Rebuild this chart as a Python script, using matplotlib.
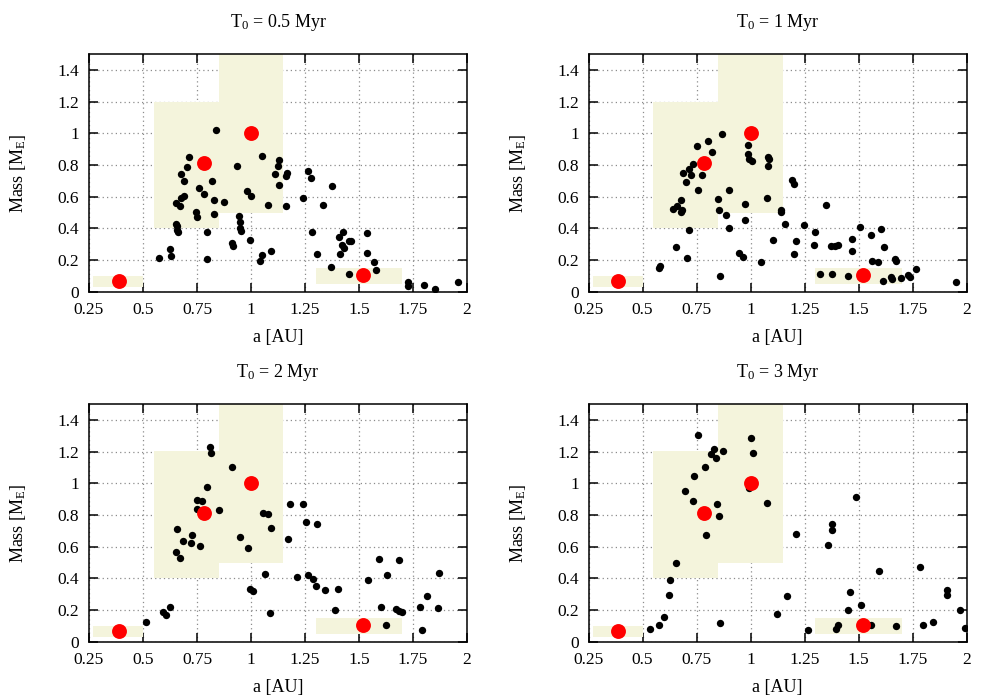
import matplotlib
matplotlib.use('Agg')
import matplotlib.pyplot as plt
from matplotlib import ticker
from matplotlib.patches import Rectangle

plt.rcParams['font.family'] = ['Liberation Serif', 'DejaVu Serif']
plt.rcParams['mathtext.fontset'] = 'custom'
plt.rcParams['mathtext.rm'] = 'Liberation Serif'
plt.rcParams['mathtext.it'] = 'Liberation Serif:italic'
plt.rcParams['mathtext.bf'] = 'Liberation Serif:bold'

titles = ['0.5', '1', '2', '3']

# planets (red)
planet_a = [0.387, 0.783, 1.0, 1.52]
planet_m = [0.068, 0.81, 1.0, 0.108]

# shaded boxes: Mercury, Venus, Earth, Mars
box_a0 = [0.27, 0.55, 0.85, 1.30]
box_a1 = [0.50, 0.85, 1.15, 1.70]
box_m0 = [0.03, 0.40, 0.50, 0.05]
box_m1 = [0.10, 1.20, 1.60, 0.15]

# T0 = 0.5 Myr
a1 = [0.837, 0.712, 0.706, 0.677, 0.688, 0.820, 0.761, 0.781, 0.692, 0.675,
      0.651, 0.669, 0.831, 0.875, 0.746, 0.749, 0.831, 0.654, 0.657, 0.657,
      0.660, 0.795, 0.574, 0.627, 0.629, 0.794, 0.937, 0.982, 1.000, 0.943,
      0.951, 0.948, 0.955, 0.911, 0.915, 0.994, 1.052, 1.129, 1.123, 1.111,
      1.131, 1.079, 1.163, 1.160, 1.168, 1.051, 1.042, 1.092, 1.263, 1.279,
      1.242, 1.333, 1.373, 1.282, 1.306, 1.371, 1.428, 1.408, 1.419, 1.430,
      1.413, 1.456, 1.465, 1.456, 1.539, 1.537, 1.568, 1.579, 1.725, 1.727,
      1.799, 1.850, 1.958]
m1 = [1.022, 0.848, 0.787, 0.745, 0.699, 0.701, 0.655, 0.619, 0.604, 0.592,
      0.560, 0.541, 0.577, 0.569, 0.502, 0.470, 0.491, 0.430, 0.413, 0.390,
      0.376, 0.378, 0.212, 0.273, 0.229, 0.208, 0.795, 0.636, 0.604, 0.476,
      0.443, 0.401, 0.386, 0.308, 0.292, 0.327, 0.854, 0.833, 0.791, 0.741,
      0.676, 0.548, 0.539, 0.732, 0.749, 0.231, 0.197, 0.256, 0.764, 0.720,
      0.590, 0.548, 0.667, 0.380, 0.241, 0.155, 0.376, 0.346, 0.298, 0.275,
      0.241, 0.323, 0.323, 0.111, 0.374, 0.243, 0.187, 0.136, 0.063, 0.040,
      0.042, 0.019, 0.065]

# T0 = 1 Myr
a2 = [0.868, 0.805, 0.752, 0.822, 0.732, 0.714, 0.686, 0.724, 0.774, 0.703,
      0.757, 0.898, 0.849, 0.680, 0.657, 0.641, 0.684, 0.680, 0.852, 0.886,
      0.900, 0.714, 0.655, 0.704, 0.581, 0.577, 0.860, 0.988, 0.989, 0.991,
      1.005, 1.082, 1.086, 1.082, 0.975, 1.074, 0.975, 0.946, 0.965, 1.049,
      1.103, 1.139, 1.143, 1.192, 1.201, 1.159, 1.212, 1.201, 1.246, 1.296,
      1.293, 1.348, 1.374, 1.390, 1.405, 1.471, 1.470, 1.505, 1.557, 1.603,
      1.619, 1.561, 1.588, 1.670, 1.673, 1.764, 1.322, 1.379, 1.451, 1.613,
      1.651, 1.653, 1.694, 1.728, 1.736, 1.950]
m2 = [0.998, 0.952, 0.922, 0.880, 0.807, 0.773, 0.748, 0.735, 0.735, 0.695,
      0.643, 0.643, 0.586, 0.578, 0.544, 0.523, 0.515, 0.504, 0.515, 0.483,
      0.403, 0.389, 0.284, 0.216, 0.162, 0.149, 0.099, 0.926, 0.868, 0.840,
      0.824, 0.851, 0.840, 0.794, 0.557, 0.592, 0.452, 0.248, 0.221, 0.191,
      0.324, 0.504, 0.515, 0.704, 0.683, 0.429, 0.319, 0.242, 0.422, 0.378,
      0.294, 0.548, 0.288, 0.292, 0.296, 0.334, 0.256, 0.408, 0.359, 0.397,
      0.282, 0.197, 0.187, 0.208, 0.195, 0.147, 0.111, 0.111, 0.099, 0.067,
      0.095, 0.082, 0.088, 0.105, 0.097, 0.065]

# T0 = 2 Myr
a3 = [0.809, 0.817, 0.912, 0.797, 0.752, 0.772, 0.752, 0.854, 0.657, 0.686,
      0.728, 0.724, 0.766, 0.651, 0.673, 0.948, 0.988, 1.054, 1.080, 1.091,
      0.995, 1.011, 1.063, 1.089, 0.515, 0.591, 0.607, 0.626, 1.179, 1.239,
      1.169, 1.256, 1.305, 1.211, 1.263, 1.289, 1.303, 1.342, 1.403, 1.389,
      1.542, 1.591, 1.628, 1.602, 1.623, 1.683, 1.671, 1.685, 1.697, 1.784,
      1.814, 1.790, 1.864, 1.871]
m3 = [1.227, 1.193, 1.103, 0.975, 0.895, 0.887, 0.840, 0.832, 0.714, 0.639,
      0.672, 0.624, 0.607, 0.569, 0.529, 0.658, 0.590, 0.813, 0.807, 0.716,
      0.336, 0.321, 0.426, 0.185, 0.124, 0.191, 0.170, 0.221, 0.870, 0.870,
      0.647, 0.756, 0.746, 0.412, 0.424, 0.399, 0.355, 0.328, 0.332, 0.204,
      0.393, 0.523, 0.420, 0.218, 0.107, 0.519, 0.206, 0.197, 0.191, 0.221,
      0.290, 0.076, 0.216, 0.433]

# T0 = 3 Myr
a4 = [0.755, 0.829, 0.815, 0.840, 0.871, 1.003, 1.009, 0.789, 0.740, 0.695,
      0.735, 0.845, 0.855, 0.795, 0.992, 1.074, 0.654, 0.629, 0.621, 0.601,
      0.575, 0.534, 0.858, 1.209, 1.120, 1.168, 1.266, 1.376, 1.379, 1.357,
      1.486, 1.462, 1.451, 1.513, 1.403, 1.394, 1.556, 1.594, 1.673, 1.782,
      1.796, 1.845, 1.907, 1.908, 1.970, 1.991]
m4 = [1.307, 1.218, 1.185, 1.160, 1.202, 1.286, 1.189, 1.101, 1.048, 0.952,
      0.891, 0.868, 0.792, 0.674, 0.971, 0.874, 0.496, 0.393, 0.298, 0.160,
      0.109, 0.082, 0.116, 0.683, 0.176, 0.290, 0.074, 0.746, 0.704, 0.609,
      0.912, 0.313, 0.202, 0.231, 0.105, 0.082, 0.107, 0.450, 0.099, 0.473,
      0.105, 0.124, 0.330, 0.294, 0.204, 0.090]

runs_a = [a1, a2, a3, a4]
runs_m = [m1, m2, m3, m4]

fig = plt.figure(figsize=(10, 7), dpi=100)
lefts = [0.089, 0.5886, 0.089, 0.5886]
bottoms = [0.583, 0.583, 0.083, 0.083]

for i in range(4):
    ax = fig.add_axes([lefts[i], bottoms[i], 0.378, 0.34])
    ax.set_axisbelow(True)
    ax.grid(True, color='#8c8c8c', linestyle=(0, (1, 2.5)), linewidth=0.9)

    for x0, x1, y0, y1 in zip(box_a0, box_a1, box_m0, box_m1):
        ax.add_patch(Rectangle((x0, y0), x1 - x0, y1 - y0,
                               facecolor='#f4f4dc', edgecolor='none', zorder=1))

    ax.scatter(runs_a[i], runs_m[i], s=28, color='black', zorder=3, linewidths=0)
    ax.scatter(planet_a, planet_m, s=115, color='#ff0000', zorder=4, linewidths=0)

    ax.set_xlim(0.25, 2)
    ax.set_ylim(0, 1.5)
    ax.set_xticks([0.25, 0.5, 0.75, 1, 1.25, 1.5, 1.75, 2])
    ax.set_yticks([0, 0.2, 0.4, 0.6, 0.8, 1.0, 1.2, 1.4])
    ax.xaxis.set_major_formatter(ticker.FormatStrFormatter('%g'))
    ax.yaxis.set_major_formatter(ticker.FormatStrFormatter('%g'))
    ax.tick_params(direction='in', length=6.5, width=1.1, top=True, right=True,
                   labelsize=12.5, pad=7)
    for sp in ax.spines.values():
        sp.set_linewidth(1.1)

    ax.set_xlabel('a [AU]', fontsize=13, va='center')
    ax.xaxis.set_label_coords(0.5, -0.19)
    ax.set_ylabel(r'Mass [M$_\mathregular{E}$]', fontsize=13, va='center')
    ax.yaxis.set_label_coords(-0.188, 0.5)
    ax.text(0.5, 1.134, r'T$_\mathregular{0}$ = ' + titles[i] + ' Myr',
            transform=ax.transAxes, ha='center', va='center', fontsize=13)

fig.savefig('out.png', dpi=100)
